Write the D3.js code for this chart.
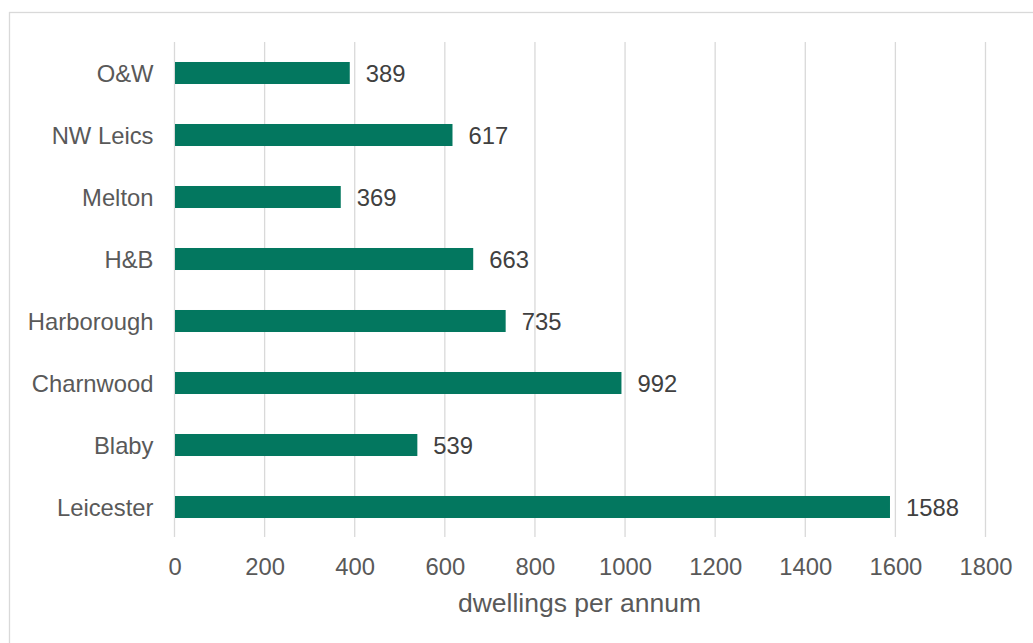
<!DOCTYPE html>
<html>
<head>
<meta charset="utf-8">
<script src="https://cdn.jsdelivr.net/npm/d3@7"></script>
<style>
  html, body { margin: 0; padding: 0; background: #fff; }
  svg { display: block; font-family: "Liberation Sans", Arial, sans-serif; }
</style>
</head>
<body>
<svg id="chart" width="1033" height="643"></svg>
<script>
const categories = ["O&W", "NW Leics", "Melton", "H&B", "Harborough", "Charnwood", "Blaby", "Leicester"];
const values = [389, 617, 369, 663, 735, 992, 539, 1588];
const xTicks = [0, 200, 400, 600, 800, 1000, 1200, 1400, 1600, 1800];
const axisTitle = "dwellings per annum";

const svg = d3.select("#chart");

// chart border (top and left visible)
svg.append("rect")
  .attr("x", 9.5).attr("y", 12.5)
  .attr("width", 1040).attr("height", 660)
  .attr("fill", "none").attr("stroke", "#d9d9d9").attr("stroke-width", 1.3);

const x = d3.scaleLinear().domain([0, 1800]).range([174.5, 985.5]);
const y = d3.scaleBand().domain(categories).range([42, 538]).paddingInner(0.645).paddingOuter(0.3225);

// gridlines
svg.append("g")
  .selectAll("line")
  .data(xTicks)
  .join("line")
  .attr("x1", d => x(d)).attr("x2", d => x(d))
  .attr("y1", 42).attr("y2", 537)
  .attr("stroke", "#d9d9d9").attr("stroke-width", 1.3);

// bars
svg.append("g")
  .selectAll("rect")
  .data(categories)
  .join("rect")
  .attr("x", x(0) + 0.5)
  .attr("y", d => y(d))
  .attr("width", (d, i) => x(values[i]) - x(0) - 0.5)
  .attr("height", y.bandwidth())
  .attr("fill", "#03775f");

// data labels
svg.append("g")
  .selectAll("text")
  .data(categories)
  .join("text")
  .attr("x", (d, i) => x(values[i]) + 16)
  .attr("y", d => y(d) + y.bandwidth() / 2)
  .attr("dy", "0.36em")
  .attr("font-size", 23.8)
  .attr("fill", "#404040")
  .text((d, i) => values[i]);

// category labels
const yAxis = d3.axisLeft(y).tickSize(0).tickPadding(21);
const gy = svg.append("g").attr("transform", `translate(${x(0)},0)`).call(yAxis);
gy.select(".domain").remove();
gy.selectAll("text")
  .attr("font-size", 23.8)
  .attr("font-family", "Liberation Sans, Arial, sans-serif")
  .attr("fill", "#595959")
  .attr("dy", "0.36em");

// x tick labels
const xAxis = d3.axisBottom(x).tickValues(xTicks).tickSize(0).tickPadding(0).tickFormat(d3.format("d"));
const gx = svg.append("g").attr("transform", `translate(0,575)`).call(xAxis);
gx.select(".domain").remove();
gx.selectAll("text")
  .attr("font-size", 23.8)
  .attr("font-family", "Liberation Sans, Arial, sans-serif")
  .attr("fill", "#595959")
  .attr("y", 0)
  .attr("dy", 0);

// axis title
svg.append("text")
  .attr("x", 579.5)
  .attr("y", 612)
  .attr("text-anchor", "middle")
  .attr("font-size", 26.5)
  .attr("fill", "#595959")
  .text(axisTitle);
</script>
</body>
</html>
